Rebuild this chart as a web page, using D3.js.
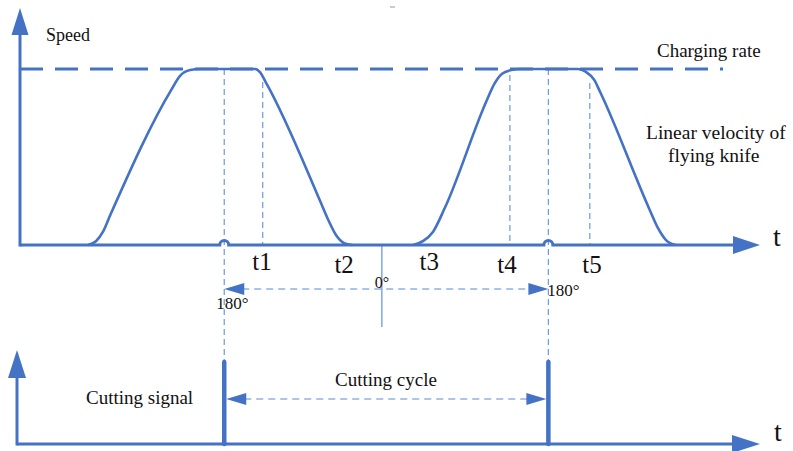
<!DOCTYPE html>
<html>
<head>
<meta charset="utf-8">
<script src="https://cdn.jsdelivr.net/npm/d3@7"></script>
<style>
  body { margin: 0; background: #fff; }
  svg { display: block; }
</style>
</head>
<body>
<div id="chart"></div>
<script>
// time runs 0..100 (arbitrary units), speed 0..1 (1 = charging rate)
const speedCycle1 = [
  [9.2, 0], [10.3, 0.023], [11.2, 0.074], [12.2, 0.17], [20.5, 0.886], [21.6, 0.96],
  [23.0, 0.994], [24.3, 1], [31.8, 1], [32.4, 0.983], [33.2, 0.926], [40.5, 0.256],
  [41.6, 0.148], [42.7, 0.057], [43.8, 0.011], [44.9, 0]
];
const speedCycle2 = [
  [53.1, 0], [54.5, 0.023], [55.8, 0.074], [57.4, 0.21], [63.1, 0.824], [64.1, 0.915],
  [65.1, 0.972], [66.4, 0.994], [67.6, 1], [75.4, 1], [76.5, 0.983], [77.6, 0.938],
  [78.4, 0.869], [85.1, 0.199], [86.2, 0.097], [87.3, 0.028], [88.6, 0]
];
const chargingRate = 1;
const chargingEnd = 95;
const cutTimes = [27.6, 71.4];
const markTimes = [32.8, 66.2, 77.0];   // dashed guides for t1, t4, t5
const markSpeeds = [0.926, 0.966, 0.92];
const timeLabels = ["t1", "t2", "t3", "t4", "t5"];
const timeLabelAt = [32.7, 43.8, 55.3, 65.8, 77.3];
const zeroTime = 48.9;

const width = 793, height = 451;
const blue = "#4472c4", guide = "#6a9ade", light = "#8fb1e6";
const serif = '"Liberation Serif", "Times New Roman", serif';

const x = d3.scaleLinear().domain([0, 100]).range([20, 760]);
const y = d3.scaleLinear().domain([0, 1]).range([245, 69]);      // speed
const ys = d3.scaleLinear().domain([0, 1]).range([444, 362]);    // cutting signal

const svg = d3.select("#chart").append("svg")
  .attr("width", width)
  .attr("height", height);

// small stray mark at the top
svg.append("line")
  .attr("x1", 390).attr("x2", 395).attr("y1", 7).attr("y2", 7)
  .attr("stroke", "#999").attr("stroke-width", 1);

function arrowHead(tx, ty, dir, len, half) {
  if (dir === "up") return `M${tx},${ty}L${tx - half},${ty + len}L${tx + half},${ty + len}Z`;
  if (dir === "left") return `M${tx},${ty}L${tx + len},${ty - half}L${tx + len},${ty + half}Z`;
  return `M${tx},${ty}L${tx - len},${ty - half}L${tx - len},${ty + half}Z`;
}

function label(tx, ty, size, str, anchor) {
  return svg.append("text")
    .attr("x", tx).attr("y", ty)
    .style("font-family", serif)
    .attr("font-size", size)
    .attr("fill", "#111")
    .attr("text-anchor", anchor || "start")
    .text(str);
}

// ---- top chart ----
// guides from cut points down to the signal bars
svg.selectAll(".cut-guide")
  .data(cutTimes)
  .enter().append("line")
  .attr("class", "cut-guide")
  .attr("x1", d => x(d)).attr("x2", d => x(d))
  .attr("y1", y(chargingRate)).attr("y2", ys(1))
  .attr("stroke", guide).attr("stroke-width", 1.2)
  .attr("stroke-dasharray", "6,4");

svg.selectAll(".mark-guide")
  .data(markTimes)
  .enter().append("line")
  .attr("class", "mark-guide")
  .attr("x1", d => x(d)).attr("x2", d => x(d))
  .attr("y1", (d, i) => y(markSpeeds[i])).attr("y2", y(0))
  .attr("stroke", guide).attr("stroke-width", 1.2)
  .attr("stroke-dasharray", "6,4");

// 0 degree line
svg.append("line")
  .attr("x1", x(zeroTime)).attr("x2", x(zeroTime))
  .attr("y1", y(0)).attr("y2", y(0) + 82)
  .attr("stroke", guide).attr("stroke-width", 1.3);

// charging rate
svg.append("line")
  .attr("x1", x(0)).attr("x2", x(chargingEnd))
  .attr("y1", y(chargingRate)).attr("y2", y(chargingRate))
  .attr("stroke", blue).attr("stroke-width", 3)
  .attr("stroke-dasharray", "23,12");

// knife speed
const line = d3.line()
  .x(d => x(d[0]))
  .y(d => y(d[1]))
  .curve(d3.curveMonotoneX);

[speedCycle1, speedCycle2].forEach(c => {
  svg.append("path")
    .datum(c)
    .attr("d", line)
    .attr("fill", "none")
    .attr("stroke", blue)
    .attr("stroke-width", 2.6);
});

// time axis with small hops at the cut points
const r = 4.5;
let base = `M${x(0)},${y(0)}`;
cutTimes.forEach(t => {
  base += `L${x(t) - r},${y(0)}A${r},${r} 0 0 1 ${x(t) + r},${y(0)}`;
});
base += `L${x(100) - 27},${y(0)}`;
svg.append("path").attr("d", base)
  .attr("fill", "none").attr("stroke", blue).attr("stroke-width", 3);
svg.append("path").attr("d", arrowHead(x(100), y(0), "right", 27, 9)).attr("fill", blue);

// speed axis
svg.append("line")
  .attr("x1", x(0)).attr("x2", x(0)).attr("y1", y(0) + 1.5).attr("y2", 34)
  .attr("stroke", blue).attr("stroke-width", 3);
svg.append("path").attr("d", arrowHead(x(0), 8, "up", 27, 8.5)).attr("fill", blue);

// 180 to 180 arrow
const yDeg = 289;
svg.append("line")
  .attr("x1", x(cutTimes[0]) + 18).attr("x2", x(cutTimes[1]) - 18)
  .attr("y1", yDeg).attr("y2", yDeg)
  .attr("stroke", light).attr("stroke-width", 1.5)
  .attr("stroke-dasharray", "7,5");
svg.append("path").attr("d", arrowHead(x(cutTimes[0]), yDeg, "left", 20, 6)).attr("fill", blue);
svg.append("path").attr("d", arrowHead(x(cutTimes[1]), yDeg, "right", 20, 6)).attr("fill", blue);

// labels
label(46, 41, 18, "Speed");
label(657, 57, 19, "Charging rate");
label(646, 139, 19.5, "Linear velocity of");
label(668, 162, 19.5, "flying knife");
label(773, 246, 28, "t");

const labelBase = [270, 273, 270, 273, 273];
timeLabels.forEach((d, i) => label(x(timeLabelAt[i]), labelBase[i], 25, d, "middle"));

label(x(zeroTime), 288, 16, "0°", "middle");
label(x(cutTimes[0]) - 8, 309, 17, "180°");
label(x(cutTimes[1]) - 1, 296, 17, "180°");

// ---- bottom chart: cutting signal ----
const x0b = x(0) - 3;
svg.append("line")
  .attr("x1", x0b).attr("x2", x(100) - 28).attr("y1", ys(0)).attr("y2", ys(0))
  .attr("stroke", blue).attr("stroke-width", 3);
svg.append("path").attr("d", arrowHead(x(100), ys(0), "right", 28, 9)).attr("fill", blue);
svg.append("line")
  .attr("x1", x0b).attr("x2", x0b).attr("y1", ys(0) + 1.5).attr("y2", 377)
  .attr("stroke", blue).attr("stroke-width", 3);
svg.append("path").attr("d", arrowHead(x0b, 350, "up", 28, 9)).attr("fill", blue);

svg.selectAll(".cut-bar")
  .data(cutTimes)
  .enter().append("line")
  .attr("class", "cut-bar")
  .attr("x1", d => x(d)).attr("x2", d => x(d))
  .attr("y1", ys(0)).attr("y2", ys(1))
  .attr("stroke", blue).attr("stroke-width", 4.5)
  .attr("stroke-linecap", "round");

const yCyc = 399;
svg.append("line")
  .attr("x1", x(cutTimes[0]) + 20).attr("x2", x(cutTimes[1]) - 20)
  .attr("y1", yCyc).attr("y2", yCyc)
  .attr("stroke", light).attr("stroke-width", 1.5)
  .attr("stroke-dasharray", "7,5");
svg.append("path").attr("d", arrowHead(x(cutTimes[0]) + 2, yCyc, "left", 20, 6)).attr("fill", blue);
svg.append("path").attr("d", arrowHead(x(cutTimes[1]) - 2, yCyc, "right", 20, 6)).attr("fill", blue);

label(86, 404, 19, "Cutting signal");
label(335, 386, 19, "Cutting cycle");
label(774, 441, 28, "t");
</script>
</body>
</html>
